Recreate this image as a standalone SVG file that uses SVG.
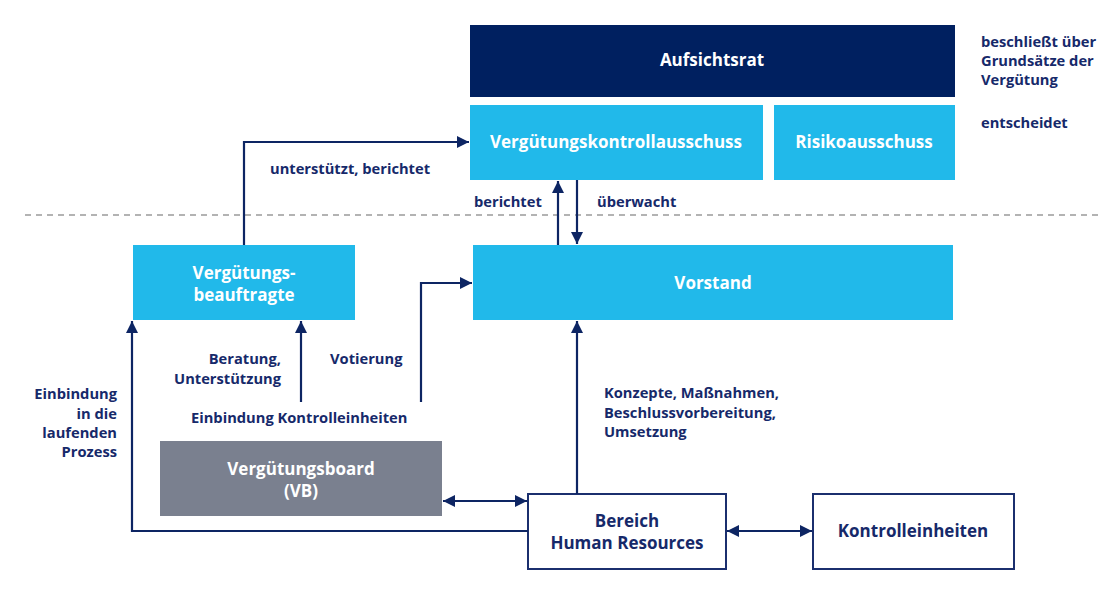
<svg xmlns="http://www.w3.org/2000/svg" width="1099" height="595" viewBox="0 0 1099 595">
  <style>
    .t { font-family: "Open Sans", "Noto Sans", "Liberation Sans", sans-serif; font-weight: 700; }
    .box-dark { fill: #002060; }
    .box-light { fill: #21b9ea; }
    .box-grey { fill: #7a808f; }
    .box-white { fill: #ffffff; stroke: #1b2f6e; stroke-width: 2; }
    .wt { fill: #ffffff; font-size: 17px; text-anchor: middle; }
    .nt { fill: #16296a; font-size: 17px; text-anchor: middle; }
    .lbl { fill: #16296a; font-size: 14.7px; }
    .r { text-anchor: end; }
    .conn { fill: none; stroke: #0d2563; stroke-width: 2.2; }
  </style>
  <defs>
    <marker id="arrow" viewBox="0 0 10 10" refX="10" refY="5" markerWidth="12" markerHeight="12" markerUnits="userSpaceOnUse" orient="auto-start-reverse">
      <path d="M0,0 L10,5 L0,10 Z" fill="#0d2563"/>
    </marker>
  </defs>

  <rect width="1099" height="595" fill="#ffffff"/>

  <!-- separator between supervisory and management level -->
  <line x1="25" y1="215" x2="1099" y2="215" stroke="#9a9a9a" stroke-width="1.5" stroke-dasharray="6,5"/>

  <g id="aufsichtsrat">
    <rect class="box-dark" x="470" y="25" width="485" height="72"/>
    <text class="t wt" x="712" y="66">Aufsichtsrat</text>
  </g>
  <g id="verguetungskontrollausschuss">
    <rect class="box-light" x="470" y="105" width="293" height="75"/>
    <text class="t wt" x="616" y="148">Vergütungskontrollausschuss</text>
  </g>
  <g id="risikoausschuss">
    <rect class="box-light" x="774" y="105" width="181" height="75"/>
    <text class="t wt" x="864" y="148">Risikoausschuss</text>
  </g>
  <g id="verguetungsbeauftragte">
    <rect class="box-light" x="133" y="245" width="222" height="75"/>
    <text class="t wt" x="244" y="279">Vergütungs-</text>
    <text class="t wt" x="244" y="301">beauftragte</text>
  </g>
  <g id="vorstand">
    <rect class="box-light" x="473" y="245" width="480" height="75"/>
    <text class="t wt" x="713" y="289">Vorstand</text>
  </g>
  <g id="verguetungsboard">
    <rect class="box-grey" x="160" y="441" width="282" height="75"/>
    <text class="t wt" x="301" y="475">Vergütungsboard</text>
    <text class="t wt" x="301" y="497">(VB)</text>
  </g>
  <g id="human-resources">
    <rect class="box-white" x="528" y="494" width="198" height="75"/>
    <text class="t nt" x="627" y="527">Bereich</text>
    <text class="t nt" x="627" y="549">Human Resources</text>
  </g>
  <g id="kontrolleinheiten">
    <rect class="box-white" x="813" y="494" width="201" height="75"/>
    <text class="t nt" x="913" y="537">Kontrolleinheiten</text>
  </g>

  <g id="connectors">
    <path class="conn" d="M244,245 V142 H469" marker-end="url(#arrow)"/>
    <path class="conn" d="M558,245 V181" marker-end="url(#arrow)"/>
    <path class="conn" d="M577,180 V244" marker-end="url(#arrow)"/>
    <path class="conn" d="M421,402 V283 H472" marker-end="url(#arrow)"/>
    <path class="conn" d="M301,402 V321" marker-end="url(#arrow)"/>
    <path class="conn" d="M528,531 H132 V321" marker-end="url(#arrow)"/>
    <path class="conn" d="M443,501 H527" marker-start="url(#arrow)" marker-end="url(#arrow)"/>
    <path class="conn" d="M577,494 V321" marker-end="url(#arrow)"/>
    <path class="conn" d="M727,531 H812" marker-start="url(#arrow)" marker-end="url(#arrow)"/>
  </g>

  <g id="labels">
    <text class="t lbl" x="981" y="47">beschließt über</text>
    <text class="t lbl" x="981" y="66">Grundsätze der</text>
    <text class="t lbl" x="981" y="85">Vergütung</text>
    <text class="t lbl" x="981" y="128">entscheidet</text>
    <text class="t lbl" x="270" y="174">unterstützt, berichtet</text>
    <text class="t lbl" x="474" y="207">berichtet</text>
    <text class="t lbl" x="597" y="207">überwacht</text>
    <text class="t lbl r" x="281" y="364">Beratung,</text>
    <text class="t lbl r" x="281" y="384">Unterstützung</text>
    <text class="t lbl" x="330" y="364">Votierung</text>
    <text class="t lbl" x="191" y="423">Einbindung Kontrolleinheiten</text>
    <text class="t lbl r" x="117" y="399">Einbindung</text>
    <text class="t lbl r" x="117" y="419">in die</text>
    <text class="t lbl r" x="117" y="438">laufenden</text>
    <text class="t lbl r" x="117" y="457">Prozess</text>
    <text class="t lbl" x="604" y="398">Konzepte, Maßnahmen,</text>
    <text class="t lbl" x="604" y="418">Beschlussvorbereitung,</text>
    <text class="t lbl" x="604" y="437">Umsetzung</text>
  </g>
</svg>
